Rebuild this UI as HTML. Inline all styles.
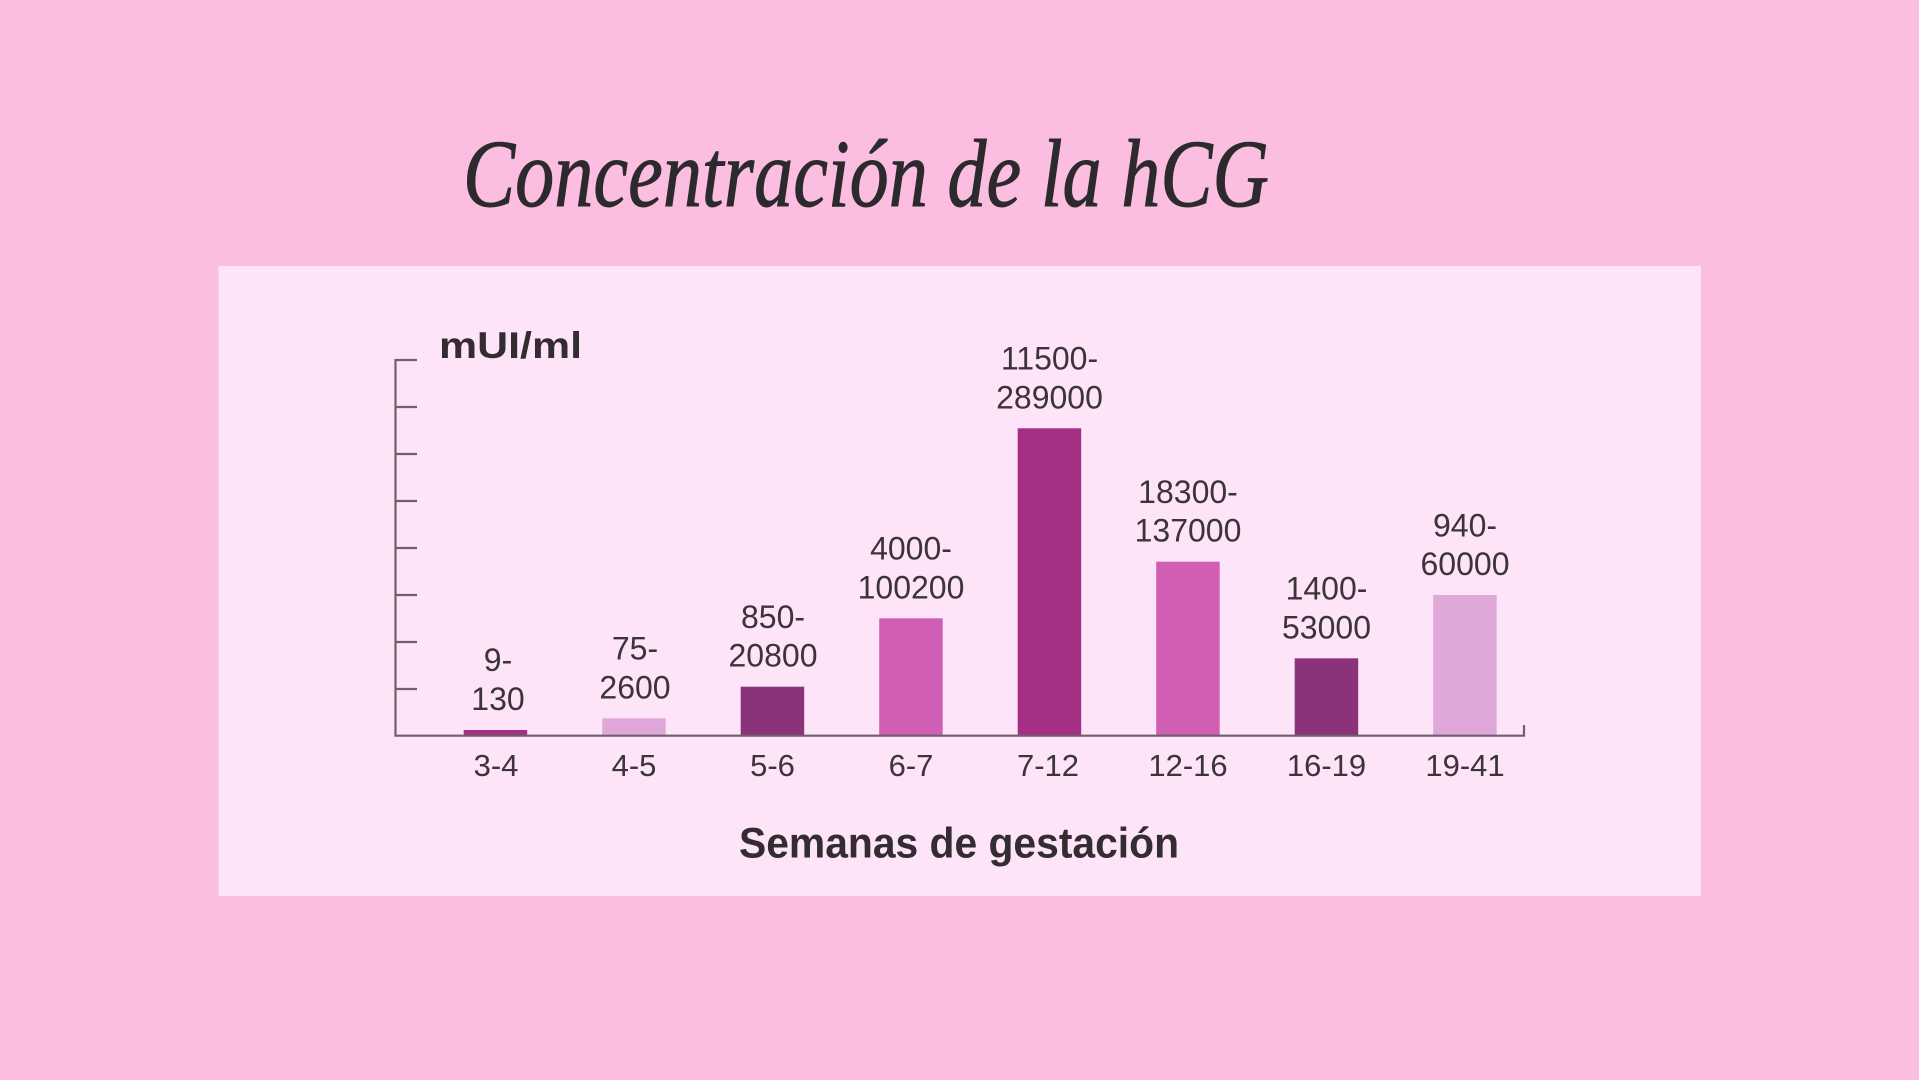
<!DOCTYPE html>
<html>
<head>
<meta charset="utf-8">
<style>
  html,body{margin:0;padding:0;background:#fbbde0;}
  svg{display:block;}
</style>
</head>
<body>
<svg width="1919" height="1080" viewBox="0 0 1919 1080" xmlns="http://www.w3.org/2000/svg">
  <rect x="0" y="0" width="1919" height="1080" fill="#fbbde0"/>
  <!-- Title -->
  <g transform="translate(0,206) scale(1,1.15)">
    <text x="463" y="0" font-family="Liberation Serif, serif" font-style="italic" font-size="84" fill="#2d2a2e" stroke="#2d2a2e" stroke-width="0.8" textLength="806" lengthAdjust="spacingAndGlyphs">Concentración de la hCG</text>
  </g>
  <!-- Panel -->
  <rect x="218.5" y="266" width="1482.5" height="630" fill="#fde4f8"/>

  <!-- Bars -->
  <g>
    <rect x="463.7" y="730" width="63.5" height="6" fill="#a42f85"/>
    <rect x="602.2" y="718.3" width="63.5" height="17.7" fill="#e0a8d9"/>
    <rect x="740.7" y="686.7" width="63.5" height="49.3" fill="#8c327b"/>
    <rect x="879.2" y="618.3" width="63.5" height="117.7" fill="#d15eb5"/>
    <rect x="1017.7" y="428.3" width="63.5" height="307.7" fill="#a42f85"/>
    <rect x="1156.2" y="561.7" width="63.5" height="174.3" fill="#d15eb5"/>
    <rect x="1294.7" y="658.3" width="63.5" height="77.7" fill="#8c327b"/>
    <rect x="1433.2" y="595" width="63.5" height="141" fill="#e0a8d9"/>
  </g>

  <!-- Axes -->
  <g stroke="#6e6169" stroke-width="2.2" fill="none">
    <line x1="395.5" y1="359" x2="395.5" y2="736.5"/>
    <line x1="394.4" y1="735.7" x2="1525" y2="735.7"/>
    <line x1="1524" y1="725" x2="1524" y2="736.5"/>
    <line x1="395.5" y1="360" x2="417" y2="360"/>
    <line x1="395.5" y1="407" x2="417" y2="407"/>
    <line x1="395.5" y1="454" x2="417" y2="454"/>
    <line x1="395.5" y1="501" x2="417" y2="501"/>
    <line x1="395.5" y1="548" x2="417" y2="548"/>
    <line x1="395.5" y1="595" x2="417" y2="595"/>
    <line x1="395.5" y1="642" x2="417" y2="642"/>
    <line x1="395.5" y1="689" x2="417" y2="689"/>
  </g>

  <!-- Y unit -->
  <text x="439" y="358" font-family="Liberation Sans, sans-serif" font-weight="bold" font-size="37" fill="#332d31" textLength="143" lengthAdjust="spacingAndGlyphs">mUI/ml</text>

  <!-- Value labels -->
  <g font-family="Liberation Sans, sans-serif" font-size="32" fill="#3b3439" text-anchor="middle">
    <text x="498" y="671">9-</text>
    <text x="498" y="710">130</text>
    <text x="635" y="659.5">75-</text>
    <text x="635" y="698.3">2600</text>
    <text x="773" y="628">850-</text>
    <text x="773" y="666.7">20800</text>
    <text x="911" y="559.6">4000-</text>
    <text x="911" y="598.3">100200</text>
    <text x="1049.5" y="369.6">11500-</text>
    <text x="1049.5" y="408.3">289000</text>
    <text x="1188" y="503">18300-</text>
    <text x="1188" y="541.7">137000</text>
    <text x="1326.5" y="599.6">1400-</text>
    <text x="1326.5" y="638.3">53000</text>
    <text x="1465" y="536.3">940-</text>
    <text x="1465" y="575">60000</text>
  </g>

  <!-- Category labels -->
  <g font-family="Liberation Sans, sans-serif" font-size="31" fill="#3b3439" text-anchor="middle">
    <text x="496" y="776">3-4</text>
    <text x="634" y="776">4-5</text>
    <text x="772.5" y="776">5-6</text>
    <text x="911" y="776">6-7</text>
    <text x="1048" y="776">7-12</text>
    <text x="1188" y="776">12-16</text>
    <text x="1326.5" y="776">16-19</text>
    <text x="1465" y="776">19-41</text>
  </g>

  <!-- X title -->
  <text x="959" y="857.5" font-family="Liberation Sans, sans-serif" font-weight="bold" font-size="43" fill="#332d31" text-anchor="middle" textLength="440" lengthAdjust="spacingAndGlyphs">Semanas de gestación</text>
</svg>
</body>
</html>
